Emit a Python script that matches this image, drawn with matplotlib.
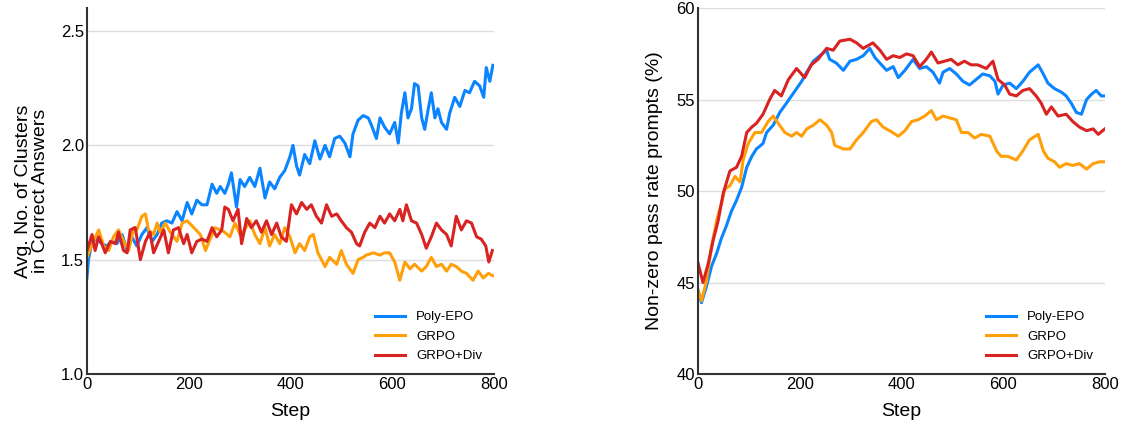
import numpy as np
import matplotlib.pyplot as plt

plt.rcParams['font.family'] = ['Liberation Sans', 'DejaVu Sans']

labels = ['Poly-EPO', 'GRPO', 'GRPO+Div']
colors = ['#0a84ff', '#ff9f0a', '#d92323']

# left panel: avg. number of clusters in correct answers
clu_poly_x = [0, 3, 10, 20, 29, 39, 49, 59, 69, 79, 88, 98, 108, 118, 128, 138, 147, 157, 167, 177,
              187, 197, 206, 216, 226, 236, 246, 255, 262, 271, 278, 284, 294, 301, 310, 320, 330,
              340, 350, 359, 369, 379, 389, 399, 405, 412, 418, 428, 438, 448, 458, 468, 477, 487,
              497, 507, 517, 523, 533, 543, 553, 559, 569, 576, 585, 595, 605, 612, 618, 625, 631,
              638, 644, 651, 658, 664, 671, 677, 684, 690, 697, 707, 713, 723, 733, 743, 752, 762,
              772, 780, 785, 792, 798]
clu_poly_y = [1.42, 1.50, 1.58, 1.59, 1.57, 1.56, 1.58, 1.57, 1.61, 1.54, 1.60, 1.56, 1.61, 1.64, 1.58,
              1.61, 1.66, 1.67, 1.66, 1.71, 1.67, 1.75, 1.70, 1.76, 1.74, 1.74, 1.83, 1.79, 1.82, 1.79,
              1.83, 1.88, 1.73, 1.85, 1.82, 1.86, 1.82, 1.90, 1.77, 1.84, 1.81, 1.86, 1.89, 1.95, 2.00,
              1.91, 1.87, 1.96, 1.92, 2.02, 1.94, 2.00, 1.95, 2.03, 2.04, 2.01, 1.95, 2.05, 2.11, 2.13,
              2.12, 2.09, 2.03, 2.12, 2.08, 2.05, 2.10, 2.01, 2.14, 2.23, 2.12, 2.16, 2.27, 2.26, 2.12,
              2.07, 2.16, 2.23, 2.12, 2.16, 2.10, 2.07, 2.14, 2.21, 2.17, 2.24, 2.23, 2.28, 2.26, 2.21,
              2.34, 2.28, 2.35]

clu_grpo_x = [0, 7, 13, 23, 33, 43, 52, 62, 72, 82, 92, 98, 108, 115, 121, 131, 138, 144, 154, 164,
              177, 187, 197, 210, 223, 233, 242, 252, 262, 271, 281, 291, 301, 310, 320, 330, 340, 350,
              359, 369, 379, 389, 399, 409, 418, 428, 438, 445, 454, 468, 477, 491, 500, 510, 523, 533,
              543, 549, 563, 576, 585, 595, 605, 615, 625, 635, 644, 658, 667, 677, 687, 697, 707, 716,
              726, 736, 746, 759, 769, 779, 789, 798]
clu_grpo_y = [1.51, 1.55, 1.58, 1.63, 1.56, 1.54, 1.60, 1.63, 1.58, 1.54, 1.64, 1.63, 1.69, 1.70, 1.63,
              1.61, 1.66, 1.62, 1.66, 1.62, 1.58, 1.66, 1.67, 1.64, 1.61, 1.54, 1.59, 1.64, 1.63, 1.62,
              1.60, 1.66, 1.61, 1.63, 1.67, 1.61, 1.57, 1.64, 1.56, 1.61, 1.57, 1.64, 1.60, 1.53, 1.57,
              1.54, 1.60, 1.61, 1.53, 1.47, 1.51, 1.48, 1.54, 1.48, 1.44, 1.50, 1.51, 1.52, 1.53, 1.52,
              1.53, 1.53, 1.49, 1.41, 1.49, 1.46, 1.48, 1.45, 1.47, 1.51, 1.47, 1.48, 1.45, 1.48, 1.47,
              1.45, 1.44, 1.41, 1.45, 1.42, 1.44, 1.43]

clu_div_x = [0, 10, 16, 23, 29, 36, 46, 56, 62, 72, 79, 85, 95, 105, 115, 124, 131, 141, 151, 160,
             170, 180, 190, 197, 206, 216, 226, 236, 246, 255, 265, 271, 278, 287, 297, 304, 314, 323,
             333, 343, 353, 363, 373, 382, 392, 402, 412, 422, 432, 441, 451, 461, 471, 481, 491, 500,
             510, 520, 530, 536, 546, 556, 566, 576, 585, 595, 605, 615, 621, 628, 638, 648, 658, 667,
             677, 687, 697, 707, 716, 726, 736, 746, 756, 766, 775, 784, 790, 797]
clu_div_y = [1.54, 1.61, 1.54, 1.60, 1.57, 1.53, 1.58, 1.57, 1.62, 1.54, 1.53, 1.63, 1.64, 1.50, 1.58,
             1.62, 1.53, 1.58, 1.63, 1.53, 1.63, 1.64, 1.57, 1.61, 1.53, 1.58, 1.59, 1.58, 1.64, 1.60,
             1.63, 1.73, 1.72, 1.67, 1.72, 1.57, 1.68, 1.64, 1.67, 1.62, 1.67, 1.61, 1.66, 1.60, 1.58,
             1.74, 1.70, 1.75, 1.72, 1.74, 1.69, 1.66, 1.74, 1.69, 1.70, 1.67, 1.64, 1.62, 1.57, 1.56,
             1.62, 1.66, 1.64, 1.69, 1.66, 1.70, 1.67, 1.72, 1.67, 1.74, 1.67, 1.66, 1.61, 1.55, 1.60,
             1.66, 1.63, 1.61, 1.56, 1.69, 1.63, 1.67, 1.66, 1.60, 1.59, 1.56, 1.49, 1.54]

# right panel: non-zero pass rate prompts (%)
nz_poly_x = [0, 7, 17, 27, 37, 46, 56, 66, 76, 86, 96, 106, 115, 128, 135, 148, 161, 174, 184, 194,
             204, 214, 227, 240, 253, 259, 272, 286, 299, 312, 325, 338, 348, 361, 371, 384, 394, 407,
             423, 436, 449, 462, 475, 482, 495, 508, 521, 534, 547, 560, 574, 584, 590, 600, 613, 626,
             639, 652, 669, 679, 688, 701, 715, 724, 734, 744, 754, 764, 774, 783, 793, 800]
nz_poly_y = [44.6, 43.9, 44.8, 45.9, 46.6, 47.4, 48.1, 48.9, 49.5, 50.2, 51.3, 51.9, 52.3, 52.6, 53.2,
             53.6, 54.3, 54.8, 55.2, 55.6, 56.0, 56.5, 57.1, 57.4, 57.7, 57.2, 57.0, 56.6, 57.1, 57.2,
             57.4, 57.8, 57.3, 56.9, 56.6, 56.8, 56.2, 56.6, 57.2, 56.7, 56.8, 56.5, 55.9, 56.5, 56.7,
             56.4, 56.0, 55.8, 56.1, 56.4, 56.3, 56.0, 55.3, 55.8, 55.9, 55.6, 56.0, 56.5, 56.9, 56.4,
             55.9, 55.6, 55.4, 55.2, 54.8, 54.3, 54.2, 55.0, 55.3, 55.5, 55.2, 55.2]

nz_grpo_x = [0, 7, 17, 27, 37, 46, 53, 63, 73, 83, 89, 99, 112, 125, 138, 148, 158, 171, 184, 194,
             204, 214, 227, 240, 253, 263, 269, 286, 299, 312, 325, 341, 351, 364, 377, 394, 407, 420,
             433, 446, 459, 469, 482, 495, 508, 518, 531, 544, 557, 574, 587, 596, 609, 626, 639, 652,
             669, 679, 688, 701, 711, 724, 737, 750, 764, 777, 790, 800]
nz_grpo_y = [44.6, 44.0, 45.1, 47.0, 48.4, 49.3, 50.1, 50.3, 50.8, 50.5, 51.7, 52.6, 53.2, 53.2, 53.8,
             54.1, 53.7, 53.2, 53.0, 53.2, 53.0, 53.4, 53.6, 53.9, 53.6, 53.2, 52.5, 52.3, 52.3, 52.8,
             53.2, 53.8, 53.9, 53.5, 53.3, 53.0, 53.3, 53.8, 53.9, 54.1, 54.4, 53.9, 54.1, 54.0, 53.9,
             53.2, 53.2, 52.9, 53.1, 53.0, 52.2, 51.9, 51.9, 51.7, 52.2, 52.8, 53.1, 52.2, 51.8, 51.6,
             51.3, 51.5, 51.4, 51.5, 51.2, 51.5, 51.6, 51.6]

nz_div_x = [0, 10, 20, 30, 40, 50, 63, 76, 86, 96, 106, 115, 128, 141, 151, 164, 178, 194, 210, 223,
            236, 253, 266, 279, 299, 312, 325, 344, 358, 371, 384, 397, 410, 423, 436, 449, 459, 472,
            485, 498, 511, 524, 537, 550, 567, 580, 590, 603, 613, 626, 639, 652, 665, 675, 685, 695,
            708, 724, 737, 750, 764, 777, 787, 800]
nz_div_y = [46.1, 45.0, 46.0, 47.3, 48.4, 49.9, 51.1, 51.3, 51.9, 53.2, 53.5, 53.7, 54.2, 55.0, 55.5,
            55.2, 56.1, 56.7, 56.2, 56.9, 57.2, 57.8, 57.7, 58.2, 58.3, 58.1, 57.8, 58.1, 57.7, 57.2,
            57.4, 57.3, 57.5, 57.4, 56.8, 57.2, 57.6, 57.0, 57.1, 57.2, 56.9, 57.1, 56.9, 56.9, 56.7,
            57.1, 56.1, 55.8, 55.3, 55.2, 55.5, 55.6, 55.2, 54.8, 54.2, 54.6, 54.1, 54.2, 53.8, 53.5,
            53.3, 53.4, 53.1, 53.4]

fig = plt.figure(figsize=(11.22, 4.23), dpi=100)
ax1 = fig.add_axes([0.0775, 0.1158, 0.3627, 0.865])
ax2 = fig.add_axes([0.622, 0.1158, 0.3627, 0.865])

left_series = [(clu_poly_x, clu_poly_y), (clu_grpo_x, clu_grpo_y), (clu_div_x, clu_div_y)]
right_series = [(nz_poly_x, nz_poly_y), (nz_grpo_x, nz_grpo_y), (nz_div_x, nz_div_y)]

for ax, series in [(ax1, left_series), (ax2, right_series)]:
    for (xs, ys), lab, c in zip(series, labels, colors):
        ax.plot(xs, ys, color=c, lw=2.2, label=lab)
    ax.set_xlim(0, 800)
    ax.set_xticks([0, 200, 400, 600, 800])
    ax.set_xlabel('Step', fontsize=14, labelpad=8)
    ax.grid(axis='y', color='#dddddd', lw=1)
    ax.set_axisbelow(True)
    for s in ['top', 'right']:
        ax.spines[s].set_visible(False)
    for s in ['left', 'bottom']:
        ax.spines[s].set_color('#333333')
        ax.spines[s].set_linewidth(1.5)
    ax.tick_params(length=0, labelsize=12, pad=2)
    ax.legend(loc='lower right', frameon=False, fontsize=9.5, handlelength=2.3,
              labelspacing=0.55, bbox_to_anchor=(1.0, 0.0))

ax1.set_ylim(1.0, 2.6)
ax1.set_yticks([1.0, 1.5, 2.0, 2.5])
ax1.set_ylabel('Avg. No. of Clusters\nin Correct Answers', fontsize=14, labelpad=9,
               linespacing=1.0)

ax2.set_ylim(40, 60)
ax2.set_yticks([40, 45, 50, 55, 60])
ax2.set_ylabel('Non-zero pass rate prompts (%)', fontsize=14, labelpad=10)

fig.savefig('out.png', dpi=100)
